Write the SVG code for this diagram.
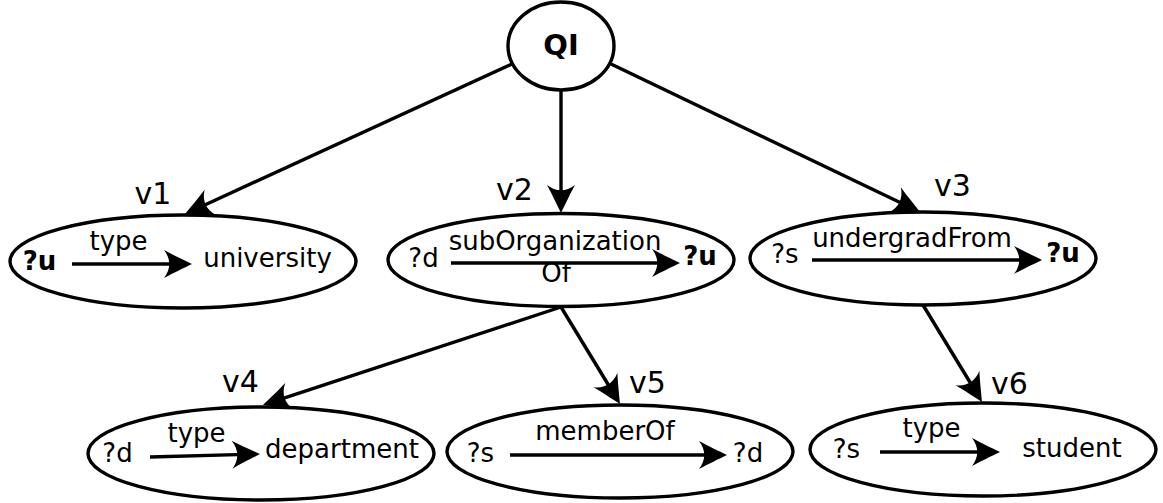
<svg xmlns="http://www.w3.org/2000/svg" width="1163" height="503" viewBox="0 0 1163 503">
  <style>
    .node { fill: #ffffff; stroke: #000000; stroke-width: 3.4; }
    .edge { stroke: #000000; stroke-width: 3.4; fill: none; marker-end: url(#head); }
    text { font-family: "DejaVu Sans", "Liberation Sans", sans-serif; fill: #000000; text-anchor: middle; }
    .t { font-size: 26px; }
    .b { font-size: 26px; font-weight: bold; }
    .lbl { font-size: 30px; }
    .root { font-size: 29px; font-weight: bold; }
  </style>
  <defs>
    <!-- filled arrowhead, tip at (0,0); lines stop 14px short of the tip -->
    <marker id="head" markerUnits="userSpaceOnUse" viewBox="-31 -16 33 32" markerWidth="33" markerHeight="32" refX="-14" refY="0" orient="auto">
      <path d="M0,0 C-8,-4 -19,-9 -28,-14 C-21,-5 -21,5 -28,14 C-19,9 -8,4 0,0 Z" fill="#000000"/>
    </marker>
  </defs>

  <!-- tree connectors -->
  <g id="connectors">
    <line class="edge" x1="512" y1="64" x2="197.7" y2="208.2"/>
    <line class="edge" x1="561" y1="91" x2="561" y2="199"/>
    <line class="edge" x1="611" y1="64" x2="907.4" y2="206"/>
    <line class="edge" x1="561" y1="307" x2="276.3" y2="400.6"/>
    <line class="edge" x1="561" y1="307" x2="612.7" y2="392"/>
    <line class="edge" x1="923" y1="305" x2="974.7" y2="390"/>
  </g>

  <g id="QI">
    <ellipse class="node" cx="561" cy="46" rx="53" ry="44"/>
    <text class="root" x="561" y="55">QI</text>
  </g>

  <g id="v1">
    <ellipse class="node" cx="183" cy="261.5" rx="173" ry="46.5"/>
    <text class="lbl" x="153" y="204">v1</text>
    <text class="b" x="39.5" y="270">?u</text>
    <text class="t" x="118.5" y="250">type</text>
    <line class="edge" x1="72" y1="264" x2="178" y2="264"/>
    <text class="t" x="267.5" y="267">university</text>
  </g>

  <g id="v2">
    <ellipse class="node" cx="561" cy="260" rx="173" ry="46.5"/>
    <text class="lbl" x="514.5" y="200">v2</text>
    <text class="t" x="423.5" y="267">?d</text>
    <text class="t" x="555" y="250">subOrganization</text>
    <text class="t" x="556" y="282">Of</text>
    <line class="edge" x1="451" y1="263" x2="666" y2="263"/>
    <text class="b" x="700" y="265">?u</text>
  </g>

  <g id="v3">
    <ellipse class="node" cx="923" cy="258.5" rx="173" ry="46.5"/>
    <text class="lbl" x="952.5" y="196">v3</text>
    <text class="t" x="785" y="263">?s</text>
    <text class="t" x="912" y="247">undergradFrom</text>
    <line class="edge" x1="812" y1="260" x2="1028" y2="260"/>
    <text class="b" x="1063" y="262">?u</text>
  </g>

  <g id="v4">
    <ellipse class="node" cx="261" cy="453.5" rx="173" ry="46.5"/>
    <text class="lbl" x="240.5" y="392">v4</text>
    <text class="t" x="117.5" y="462">?d</text>
    <text class="t" x="196.5" y="442">type</text>
    <line class="edge" x1="150" y1="457" x2="246" y2="454.4"/>
    <text class="t" x="342" y="458">department</text>
  </g>

  <g id="v5">
    <ellipse class="node" cx="620" cy="451.5" rx="173" ry="46.5"/>
    <text class="lbl" x="647.5" y="393">v5</text>
    <text class="t" x="480.5" y="462">?s</text>
    <text class="t" x="605" y="440">memberOf</text>
    <line class="edge" x1="510" y1="455" x2="713" y2="455"/>
    <text class="t" x="748" y="462">?d</text>
  </g>

  <g id="v6">
    <ellipse class="node" cx="983" cy="449.5" rx="173" ry="46.5"/>
    <text class="lbl" x="1009.5" y="394">v6</text>
    <text class="t" x="846.5" y="458">?s</text>
    <text class="t" x="931.5" y="437">type</text>
    <line class="edge" x1="880" y1="452" x2="986" y2="452"/>
    <text class="t" x="1072" y="457">student</text>
  </g>
</svg>
